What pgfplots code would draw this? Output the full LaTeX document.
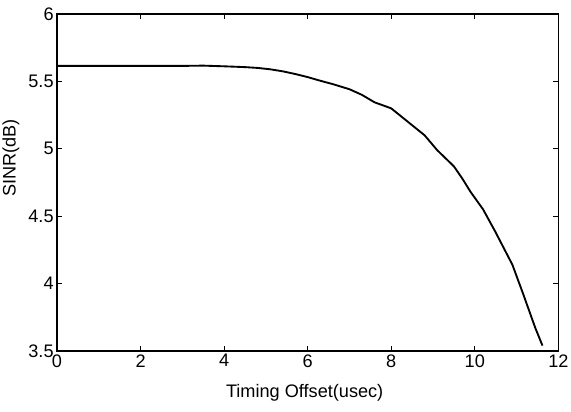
\documentclass[border=0pt]{standalone}
\usepackage{pgfplots}
\pgfplotsset{compat=1.18}
\usepackage{fontspec}
\setmainfont{Liberation Sans}
\begin{document}
\begin{tikzpicture}
\begin{axis}[
  scale only axis,
  width=376pt, height=252.75pt,
  xmin=0, xmax=12, ymin=3.5, ymax=6,
  xtick={0,2,...,12}, ytick={3.5,4,...,6},
  yticklabels={3.5,4,4.5,5,5.5,6},
  tick align=inside,
  major tick length=4pt,
  axis line style={line width=1.2pt},
  every tick/.style={black, line width=0.8pt},
  /pgf/number format/assume math mode=true,
  font=\fontsize{13.6}{16}\selectfont,
  xticklabel style={yshift=1pt},
  yticklabel style={xshift=1pt},
  xlabel={Timing Offset(usec)},
  ylabel={SINR(dB)},
  every axis x label/.style={at={(ticklabel cs:0.494)}, anchor=north, yshift=-6pt},
  every axis y label/.style={at={(ticklabel cs:0.573)}, anchor=south, rotate=90, yshift=0pt},
]
\addplot[black, line width=1.4pt] coordinates {
(0,5.615) (1,5.615) (2,5.615) (3,5.615) (3.5,5.617) (4,5.612) (4.5,5.606)
(4.8,5.600) (5.1,5.590) (5.4,5.575) (5.7,5.555) (6,5.532) (6.3,5.505)
(6.6,5.48) (7,5.442) (7.3,5.40) (7.6,5.345) (8,5.30) (8.2,5.25)
(8.4,5.20) (8.8,5.10) (9.1,4.99) (9.5,4.87) (9.7,4.78) (9.9,4.68) (10.2,4.55)
(10.5,4.38) (10.7,4.26) (10.9,4.14) (11.15,3.93) (11.45,3.67) (11.62,3.54)
};
\end{axis}
\pgfresetboundingbox
\path (-42.75pt,-45pt) rectangle (385.5pt,263.25pt);
\end{tikzpicture}
\end{document}
